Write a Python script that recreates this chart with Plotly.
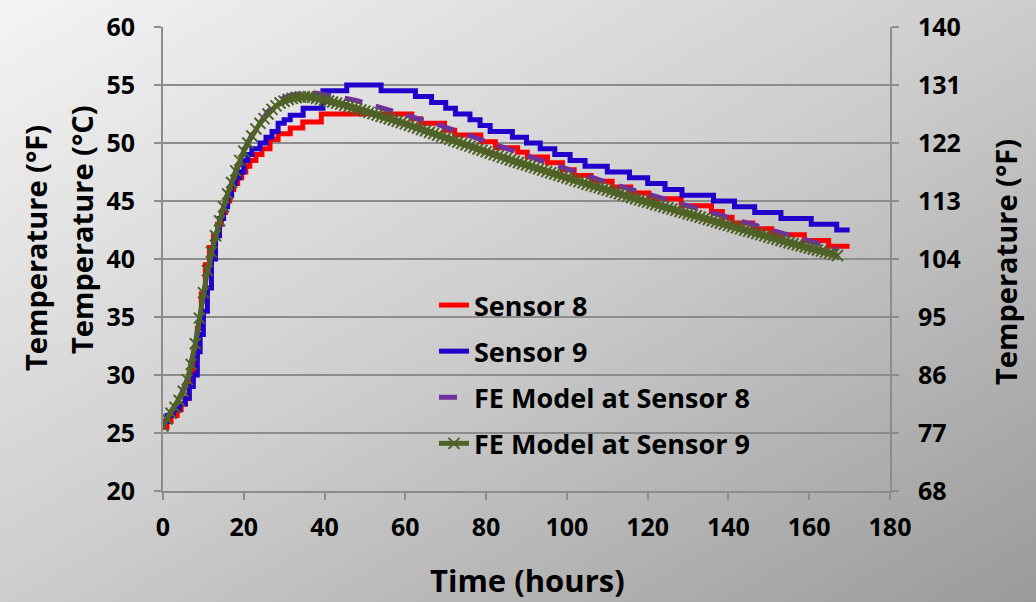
import base64
import plotly.graph_objects as go

# ---------------- data ----------------
# Sensor 8 (measured, step-wise logger readings): time [h], temperature [°C]
s8_time = [0, 1, 2, 3.5, 4.5, 5.5, 6.5, 7.5, 8.5, 9.5, 10.5, 11.5, 12.5, 13.5, 14.5,
           15.5, 16.5, 17.5, 18.5, 19.5, 20.5, 21.5, 23, 24.5, 26.5, 28.5, 31.5, 34.6,
           39.2, 61.6, 63.8, 69.7, 72.2, 78.7, 82.3, 87.8, 90.2, 95.2, 98.9, 101.8,
           106, 111.2, 115.8, 120.3, 128.3, 135.8, 138.5, 140.9, 146, 150.7, 158.8,
           164.8, 170]
s8_temp = [25.5, 26.0, 26.5, 27.0, 27.5, 28.0, 29.5, 31.5, 34.0, 37.0, 39.5, 41.0, 42.0,
           43.0, 44.0, 45.0, 46.0, 46.5, 47.0, 47.5, 48.0, 48.5, 49.0, 49.5, 50.3, 50.8,
           51.3, 51.8, 52.5, 52.1, 51.7, 51.1, 50.7, 50.1, 49.6, 49.2, 48.8, 48.3, 47.7,
           47.2, 46.7, 46.2, 45.7, 45.2, 44.6, 44.1, 43.6, 43.1, 42.6, 42.1, 41.6, 41.1,
           41.1]

# Sensor 9 (measured)
s9_time = [0, 1, 2.5, 4, 5.5, 6.5, 7.5, 8.5, 9.2, 10, 11, 12, 13, 14, 15, 16, 17, 18,
           19, 20, 21, 22, 24, 25.5, 27, 28.5, 30, 31.5, 34.7, 39.6, 45.5, 54, 62.5,
           66.5, 70, 72.4, 76, 78.5, 81, 86.5, 90, 93.4, 97, 100.8, 104.5, 110, 115.5,
           120, 124.3, 128.5, 136.3, 141.5, 146.5, 153, 160.5, 166.8, 170]
s9_temp = [26.0, 26.5, 27.0, 27.5, 28.0, 29.0, 30.0, 32.0, 33.5, 35.5, 37.5, 40.0, 42.0,
           43.5, 44.5, 45.5, 46.5, 47.0, 47.5, 48.5, 49.0, 49.5, 50.0, 50.5, 51.0, 51.7,
           52.0, 52.4, 53.0, 54.5, 55.0, 54.5, 54.0, 53.5, 53.0, 52.5, 52.0, 51.5, 51.0,
           50.5, 50.0, 49.5, 49.0, 48.5, 48.0, 47.5, 47.0, 46.5, 46.0, 45.5, 45.0, 44.5,
           44.0, 43.5, 43.0, 42.5, 42.5]

# FE model at Sensor 8 (every 2 h)
fe8_time = [0, 2, 4, 6, 8, 10, 12, 14, 16, 18, 20, 22, 24, 26, 28, 30, 32, 34, 36, 38,
            40, 42, 44, 46, 48, 50, 52, 54, 56, 58, 60, 62, 64, 66, 68, 70, 72, 74, 76,
            78, 80, 82, 84, 86, 88, 90, 92, 94, 96, 98, 100, 102, 104, 106, 108, 110,
            112, 114, 116, 118, 120, 122, 124, 126, 128, 130, 132, 134, 136, 138, 140,
            142, 144, 146, 148, 150, 152, 154, 156, 158, 160, 162, 164, 166, 167]
fe8_temp = [25.8, 26.8, 27.9, 29.6, 32.6, 36.9, 40.4, 43.2, 45.6, 47.6, 49.3, 50.7, 51.8,
            52.7, 53.4, 53.9, 54.15, 54.3, 54.35, 54.3, 54.2, 54.1, 53.95, 53.8, 53.65,
            53.45, 53.3, 53.1, 52.9, 52.7, 52.5, 52.25, 52.05, 51.85, 51.6, 51.35, 51.1,
            50.85, 50.6, 50.35, 50.1, 49.85, 49.6, 49.4, 49.15, 48.9, 48.7, 48.45, 48.2,
            48.0, 47.75, 47.5, 47.3, 47.05, 46.85, 46.6, 46.4, 46.2, 45.95, 45.75, 45.55,
            45.35, 45.15, 44.95, 44.75, 44.55, 44.35, 44.15, 43.95, 43.75, 43.55, 43.35,
            43.15, 42.95, 42.75, 42.5, 42.3, 42.1, 41.9, 41.7, 41.5, 41.3, 41.15, 40.95,
            40.85]

# FE model at Sensor 9 (hourly, with markers)
fe9_time = list(range(0, 168))
fe9_temp = [25.6, 26.2, 26.7, 27.2, 27.8, 28.6, 29.6, 30.9, 32.7, 34.9,
            37.1, 39.0, 40.6, 42.0, 43.3, 44.5, 45.6, 46.6, 47.6, 48.5,
            49.3, 50.0, 50.6, 51.2, 51.7, 52.1, 52.5, 52.9, 53.2, 53.45,
            53.6, 53.75, 53.85, 53.92, 53.97, 54.0, 53.98, 53.93, 53.86, 53.78,
            53.7, 53.62, 53.53, 53.44, 53.35, 53.25, 53.15, 53.05, 52.95, 52.85,
            52.75, 52.64, 52.53, 52.42, 52.31, 52.2, 52.09, 51.98, 51.87, 51.76,
            51.65, 51.53, 51.41, 51.29, 51.17, 51.05, 50.93, 50.81, 50.69, 50.57,
            50.45, 50.33, 50.21, 50.09, 49.97, 49.85, 49.73, 49.61, 49.49, 49.37,
            49.25, 49.13, 49.01, 48.89, 48.77, 48.65, 48.54, 48.43, 48.32, 48.21,
            48.1, 47.99, 47.88, 47.77, 47.66, 47.55, 47.44, 47.33, 47.22, 47.11,
            47.0, 46.89, 46.78, 46.67, 46.56, 46.45, 46.35, 46.25, 46.15, 46.05,
            45.95, 45.84, 45.73, 45.62, 45.51, 45.4, 45.3, 45.2, 45.1, 45.0,
            44.9, 44.8, 44.7, 44.6, 44.5, 44.4, 44.3, 44.2, 44.1, 44.0,
            43.9, 43.8, 43.7, 43.6, 43.5, 43.4, 43.3, 43.2, 43.1, 43.0,
            42.9, 42.8, 42.7, 42.6, 42.5, 42.4, 42.3, 42.2, 42.1, 42.0,
            41.9, 41.8, 41.7, 41.6, 41.5, 41.4, 41.31, 41.22, 41.13, 41.04,
            40.95, 40.86, 40.77, 40.68, 40.59, 40.5, 40.4, 40.3]

x_ticks = [0, 20, 40, 60, 80, 100, 120, 140, 160, 180]
c_ticks = [20, 25, 30, 35, 40, 45, 50, 55, 60]
f_ticks = [68, 77, 86, 95, 104, 113, 122, 131, 140]

# ---------------- styling ----------------
W, H = 1036, 602
ML, MR, MT, MB = 163, 146, 27, 111
PW, PH = W - ML - MR, H - MT - MB
FONT = "Open Sans"
AX = "#8c8c8c"
TXT = "#000000"

fig = go.Figure()
fig.add_trace(go.Scatter(x=s8_time, y=s8_temp, name="Sensor 8", mode="lines",
                         line=dict(color="#FF0000", width=5, shape="hv"),
                         legendgroup="a"))
fig.add_trace(go.Scatter(x=s9_time, y=s9_temp, name="Sensor 9", mode="lines",
                         line=dict(color="#2200CC", width=5, shape="hv"),
                         legendgroup="b"))
fig.add_trace(go.Scatter(x=fe8_time, y=fe8_temp, name="FE Model at Sensor 8", mode="lines",
                         line=dict(color="#7030A0", width=5, dash="18px,14px"),
                         legendgroup="c"))
fig.add_trace(go.Scatter(x=fe9_time, y=fe9_temp, name="FE Model at Sensor 9",
                         mode="lines+markers",
                         line=dict(color="#4F6228", width=5),
                         marker=dict(symbol="x-thin", size=11,
                                     line=dict(color="#4F6228", width=2)),
                         legendgroup="d"))

svg = ('<svg xmlns="http://www.w3.org/2000/svg" width="%d" height="%d" '
       'preserveAspectRatio="none" viewBox="0 0 %d %d">'
       '<defs><linearGradient id="g" x1="0" y1="0" x2="1" y2="1">'
       '<stop offset="0" stop-color="#f4f4f4"/>'
       '<stop offset="0.5" stop-color="#cdcdcd"/>'
       '<stop offset="1" stop-color="#9a9a9a"/></linearGradient></defs>'
       '<rect width="%d" height="%d" fill="url(#g)"/></svg>') % (W, H, W, H, W, H)
bg_src = "data:image/svg+xml;base64," + base64.b64encode(svg.encode()).decode()

tickfont = dict(family=FONT, size=25, color=TXT, weight="bold")
titlefont = dict(family=FONT, size=29, color=TXT, weight="bold")
fig.update_layout(
    width=W, height=H,
    margin=dict(l=ML, r=MR, t=MT, b=MB, autoexpand=False),
    paper_bgcolor="#cfcfcf",
    plot_bgcolor="rgba(0,0,0,0)",
    images=[dict(source=bg_src, xref="paper", yref="paper",
                 x=-ML / PW, y=1 + MT / PH, sizex=W / PW, sizey=H / PH,
                 xanchor="left", yanchor="top", sizing="stretch", layer="below")],
    xaxis=dict(range=[0, 180], tickvals=x_ticks, showgrid=False, zeroline=False,
               showline=True, linecolor=AX, linewidth=2, ticks="outside",
               ticklen=7, tickwidth=2, tickcolor=AX, tickfont=tickfont,
               ticklabelstandoff=6),
    yaxis=dict(range=[20, 60], tickvals=c_ticks, showgrid=True, gridcolor=AX,
               gridwidth=2, zeroline=False, showline=True, linecolor=AX,
               linewidth=2, ticks="outside", ticklen=7, tickwidth=2, tickcolor=AX,
               tickfont=tickfont, ticklabelstandoff=14),
    yaxis2=dict(range=[68, 140], tickvals=f_ticks, overlaying="y", side="right",
                showgrid=False, zeroline=False, showline=True, linecolor=AX,
                linewidth=2, ticks="outside", ticklen=7, tickwidth=2, tickcolor=AX,
                tickfont=tickfont, ticklabelstandoff=14),
    showlegend=True,
    legend=dict(x=(434 - ML) / PW, y=(H - MB - 281) / PH, xanchor="left", yanchor="top",
                bgcolor="rgba(0,0,0,0)", font=dict(family=FONT, size=27, color=TXT,
                                                   weight="bold"),
                tracegroupgap=8, itemwidth=30),
    annotations=[
        dict(text="Time (hours)", xref="paper", yref="paper", x=(527 - ML) / PW,
             y=-(580 - MT - PH) / PH, xanchor="center", yanchor="middle",
             showarrow=False, font=dict(family=FONT, size=31, color=TXT, weight="bold")),
        dict(text="Temperature (°F)", xref="paper", yref="paper", x=(36 - ML) / PW,
             y=1 - (248 - MT) / PH, textangle=-90, xanchor="center", yanchor="middle",
             showarrow=False, font=titlefont),
        dict(text="Temperature (°C)", xref="paper", yref="paper", x=(81 - ML) / PW,
             y=1 - (230 - MT) / PH, textangle=-90, xanchor="center", yanchor="middle",
             showarrow=False, font=titlefont),
        dict(text="Temperature (°F)", xref="paper", yref="paper", x=(1005 - ML) / PW,
             y=1 - (262 - MT) / PH, textangle=-90, xanchor="center", yanchor="middle",
             showarrow=False, font=titlefont),
    ],
)
# a hidden anchor trace so the secondary (°F) axis is rendered
fig.add_trace(go.Scatter(x=[None], y=[None], yaxis="y2", showlegend=False,
                         hoverinfo="skip"))

fig.write_html("out.html")
